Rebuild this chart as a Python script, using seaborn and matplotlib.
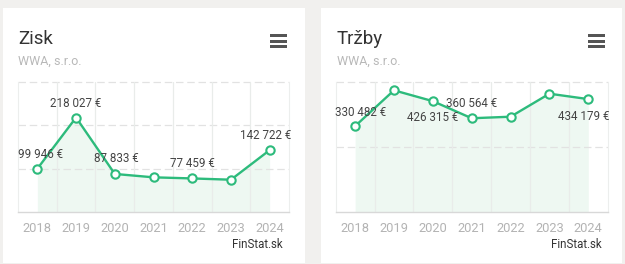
import matplotlib
matplotlib.use("Agg")
import matplotlib.pyplot as plt
from matplotlib.patches import Rectangle
import seaborn as sns
import pandas as pd
import numpy as np

# ---- data ----
years = ["2018", "2019", "2020", "2021", "2022", "2023", "2024"]
zisk = [99946, 218027, 87833, 80000, 77459, 74500, 142722]
trzby = [330482, 468000, 426315, 360564, 366500, 455000, 434179]
zisk_ticks = [0, 100000, 200000, 300000]
trzby_ticks = [0, 250000, 500000]
zisk_labels = ["99 946 €", "218 027 €", "87 833 €", None, "77 459 €", None, "142 722 €"]
trzby_labels = ["330 482 €", None, "426 315 €", "360 564 €", None, None, "434 179 €"]
company = "WWA, s.r.o."
titles = ["Zisk", "Tržby"]
source = "FinStat.sk"

# ---- style ----
sns.set_theme(style="white")
plt.rcParams['font.family'] = ['Roboto', 'DejaVu Sans']

GREEN = "#2dbb7c"
FILL = "#eef8f2"
BG = "#f1f0ee"
W, H = 625, 264
fig = plt.figure(figsize=(W / 100, H / 100), dpi=100, facecolor=BG)

def fx(px):
    return px / W

def fy(py):
    return 1 - py / H

# cards
for x0, x1 in [(3, 305), (321, 621.5)]:
    fig.patches.append(Rectangle((fx(x0), fy(262.5)), fx(x1 - x0), (262.5 - 8) / H,
                                 transform=fig.transFigure, facecolor="white",
                                 edgecolor="none", zorder=-5))

panels = [
    dict(ax=(18, 289), tx=18, hb=270, vals=zisk, ticks=zisk_ticks, labels=zisk_labels,
         offs=[(2.5, 10), (0, 10), (1, 11), None, (0, 10.5), None, (-3, 10.3)]),
    dict(ax=(335.7, 607.7), tx=336.5, hb=588, vals=trzby, ticks=trzby_ticks, labels=trzby_labels,
         offs=[(4, 9.8), None, (0, -12), (0, 10.6), None, None, (-3.5, -12.2)]),
]

for title, p in zip(titles, panels):
    l, r = p["ax"]
    ax = fig.add_axes([fx(l), fy(212), fx(r - l), 130 / H])
    ax.set_zorder(2)
    ax.set_facecolor("white")
    df = pd.DataFrame({"year": years, "value": p["vals"]})
    xs = np.arange(len(years))
    ax.fill_between(xs, p["vals"], 0, color=FILL, lw=0, zorder=1)
    sns.lineplot(data=df, x="year", y="value", ax=ax, color=GREEN, lw=1.7,
                 marker="o", markersize=6, markerfacecolor="white",
                 markeredgecolor=GREEN, markeredgewidth=1.5, zorder=5)
    ax.set_xlim(-0.5, len(years) - 0.5)
    ax.set_ylim(p["ticks"][0], p["ticks"][-1])
    for t in p["ticks"][1:]:
        ax.axhline(t, color="#e2e2e2", lw=0.9, ls=(0, (6, 3)), zorder=2, clip_on=False)
    for i in range(len(years) - 1):
        ax.axvline(i + 0.5, color="#e9ecea", lw=0.9, zorder=2)
    ax.set_yticks([])
    ax.set_xticks(xs)
    ax.set_xticklabels(years, color="#b3b3b3", fontsize=9.3)
    ax.tick_params(axis="x", length=0, pad=7)
    ax.set_xlabel("")
    ax.set_ylabel("")
    for s in ["left", "right"]:
        ax.spines[s].set_color("#eceeed")
        ax.spines[s].set_linewidth(0.8)
    ax.spines["top"].set_visible(False)
    ax.spines["bottom"].set_color("#d8d8d8")
    ax.spines["bottom"].set_linewidth(1)
    for i, (lab, off) in enumerate(zip(p["labels"], p["offs"])):
        if lab is None:
            continue
        ax.annotate(lab, (i, p["vals"][i]), xytext=off, textcoords="offset points",
                    ha="center", va="center", fontsize=8.4, color="#444444", zorder=6,
                    annotation_clip=False)
    fig.text(fx(p["tx"]), fy(38.5), title, fontsize=13.5, color="#333333",
             ha="left", va="center")
    fig.text(fx(p["tx"] + 0.5), fy(61.5), company, fontsize=9, color="#b8b8b8",
             ha="left", va="center")
    fig.text(fx(r - 6), fy(244), source, fontsize=8.3, color="#333333",
             ha="right", va="center")
    for cy in [35.8, 41.3, 46.0]:
        fig.patches.append(Rectangle((fx(p["hb"]), fy(cy + 1.5)), fx(17), 3.0 / H,
                                     transform=fig.transFigure, facecolor="#555555",
                                     edgecolor="none", zorder=3))

fig.savefig("out.png", dpi=100, facecolor=BG)
